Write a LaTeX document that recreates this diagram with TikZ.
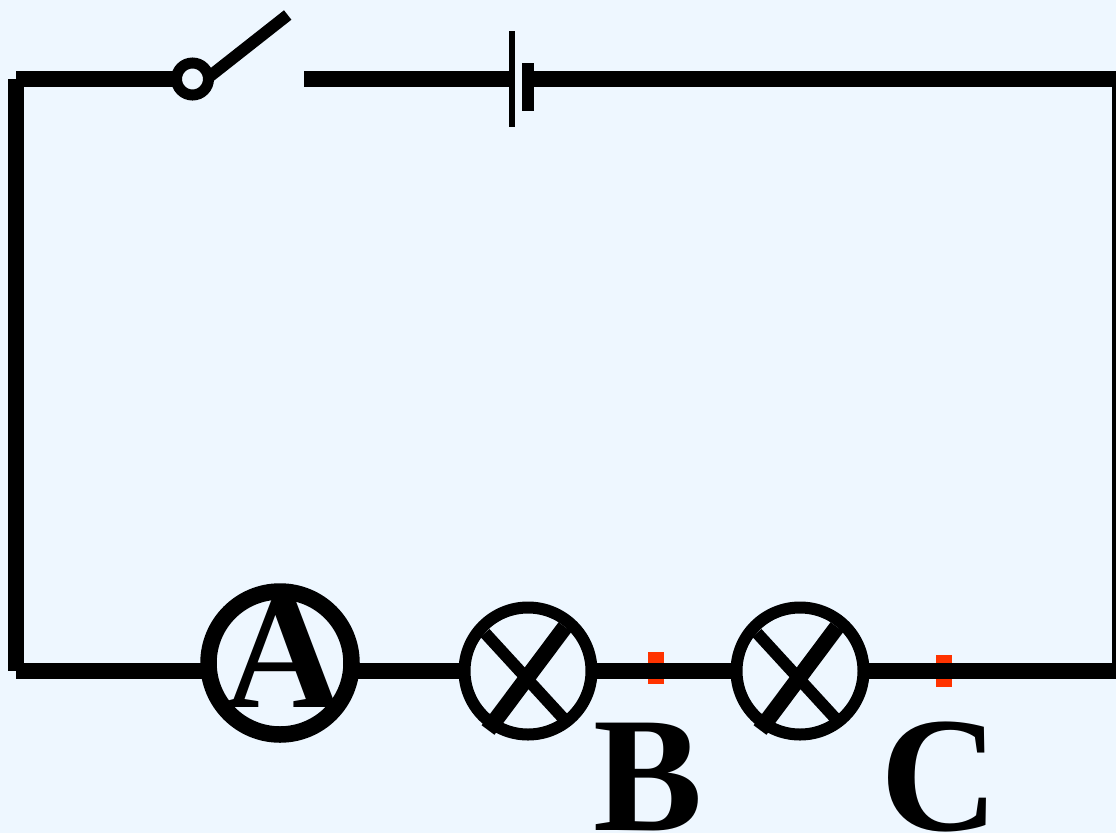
\documentclass[tikz,border=0pt]{standalone}
\usepackage{fontspec}
\setmainfont{Liberation Serif}
\definecolor{paper}{HTML}{EEF7FF}
\definecolor{mark}{HTML}{FF3300}
\pgfdeclarelayer{backdrop}
\pgfdeclarelayer{wires}
\pgfsetlayers{backdrop,wires,main}
\tikzset{
  wire/.style={draw=black,line width=16pt,line cap=butt},
  meterring/.style={circle,draw=black,fill=paper,line width=16.5pt,minimum size=143pt,inner sep=0pt,outer sep=0pt},
  lampring/.style={circle,draw=black,fill=paper,line width=12pt,minimum size=127pt,inner sep=0pt,outer sep=0pt},
  pivot/.style={circle,draw=black,fill=paper,line width=11pt,minimum size=32pt,inner sep=0pt,outer sep=0pt},
  thincross/.style={draw=black,line width=12pt,line cap=butt},
  thickcross/.style={draw=black,line width=16pt,line cap=butt},
  arm/.style={draw=black,line width=12pt,line cap=butt},
  plate/.style={fill=black,inner sep=0pt,outer sep=0pt,minimum width=#1},
  plate/.default=6pt,
  probe/.style={fill=mark,inner sep=0pt,minimum width=16pt,minimum height=32pt},
  letter/.style={font=\fontsize{164}{164}\selectfont\bfseries,text=black,inner sep=0pt,anchor=base}
}
\begin{document}
\begin{tikzpicture}[x=1pt,y=-1pt]
\useasboundingbox (0,0) rectangle (1116,833);
\begin{pgfonlayer}{backdrop}
  \fill[paper] (0,0) rectangle (1116,833);
  \node[probe] (probeB) at (656,668) {};
  \node[probe] (probeC) at (944,671) {};
\end{pgfonlayer}

% corners and free ends
\coordinate (tl) at (16,79);
\coordinate (bl) at (16,671);
\coordinate (br) at (1120,671);
\coordinate (tr) at (1120,79);
\coordinate (contact) at (304,79);
\coordinate (armtip) at (287.7,15);
\coordinate (armbase) at (207,78.5);

% components
\node[pivot] (sw) at (192.5,79) {};
\node[plate=6pt,minimum height=96pt] (cellLong) at (512,79) {};
\node[plate=12pt,minimum height=48pt] (cellShort) at (528,87) {};
\node[meterring] (amm) at (280,663) {};
\node[lampring] (lampL) at (528,671) {};
\node[lampring] (lampR) at (800,671) {};

% cross bars of the lamps
\draw[thincross] (485,633) -- (563,718);
\draw[thickcross] (565,627) -- (488,730);
\draw[thincross] (757,633) -- (835,718);
\draw[thickcross] (837,627) -- (760,730);

% labels
\node[letter] (labA) at (284,707) {A};
\node[letter] (labB) at (648,830) {B};
\node[letter] (labC) at (940,830) {C};

\begin{pgfonlayer}{wires}
  \draw[wire] (tl) -- (sw.west);
  \draw[arm] (armtip) -- (armbase);
  \draw[wire] (contact) -- (cellLong.center);
  \draw[wire] (cellShort.center |- tr) -- (tr);
  \draw[wire] (tr) -- (br);
  \draw[wire] (tl) -- (bl);
  \draw[wire] (bl) -- (amm.west |- bl);
  \draw[wire] (amm.east |- bl) -- (lampL.west);
  \draw[wire] (lampL.east) -- (lampR.west);
  \draw[wire] (lampR.east) -- (br);
\end{pgfonlayer}
\end{tikzpicture}
\end{document}
